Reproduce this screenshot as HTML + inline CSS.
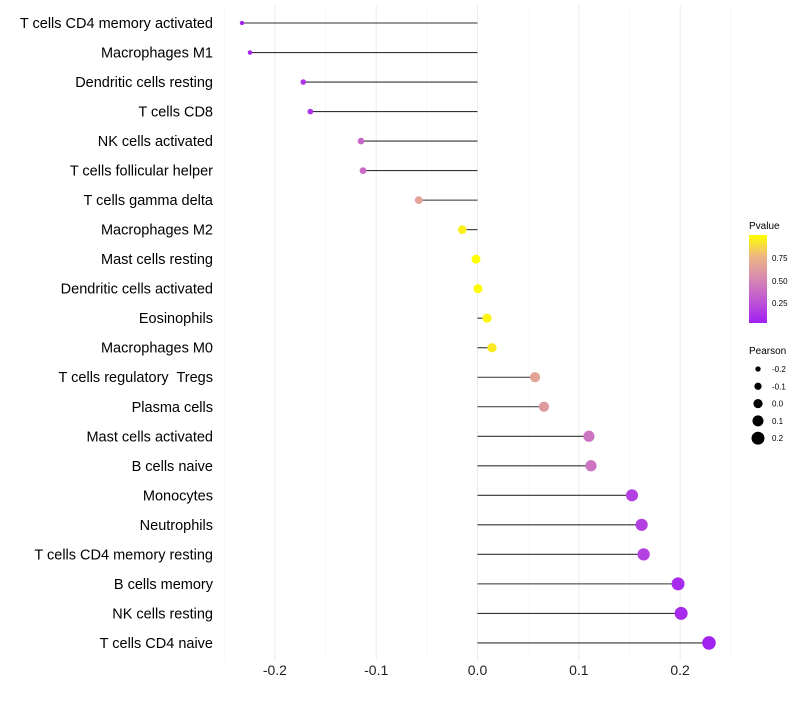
<!DOCTYPE html>
<html><head><meta charset="utf-8"><style>
body{margin:0;background:#fff;font-family:"Liberation Sans",sans-serif}
#labels text{white-space:pre}
</style></head><body>
<svg id="chart" width="800" height="700" xmlns="http://www.w3.org/2000/svg" font-family="Liberation Sans, sans-serif">
<defs><linearGradient id="pg" x1="0" y1="1" x2="0" y2="0">
<stop offset="0" stop-color="#A020F0"/><stop offset="0.25" stop-color="#BF55D5"/><stop offset="0.5" stop-color="#D688B2"/><stop offset="0.75" stop-color="#EDB585"/><stop offset="1" stop-color="#FFFF00"/></linearGradient></defs>
<g id="grid"></g><g id="marks"></g><g id="labels"></g><g id="ticks"></g>
<g>
<text x="749" y="229" font-size="10">Pvalue</text>
<rect x="749" y="235" width="18" height="88" fill="url(#pg)"/>
<text x="772" y="261" font-size="8">0.75</text>
<text x="772" y="284" font-size="8">0.50</text>
<text x="772" y="306" font-size="8">0.25</text>
</g>
<g id="sizeleg">
<text x="749" y="354" font-size="10">Pearson</text>
</g>
</svg>
<script>
const categories=["T cells CD4 memory activated","Macrophages M1","Dendritic cells resting","T cells CD8","NK cells activated","T cells follicular helper","T cells gamma delta","Macrophages M2","Mast cells resting","Dendritic cells activated","Eosinophils","Macrophages M0","T cells regulatory  Tregs","Plasma cells","Mast cells activated","B cells naive","Monocytes","Neutrophils","T cells CD4 memory resting","B cells memory","NK cells resting","T cells CD4 naive"];
const pearson=[-0.2325,-0.2246,-0.172,-0.165,-0.115,-0.113,-0.058,-0.015,-0.0015,0.0005,0.0094,0.0143,0.0568,0.0656,0.110,0.112,0.1525,0.162,0.164,0.198,0.201,0.2285];
const pvalue=[0.01,0.02,0.1,0.1,0.35,0.35,0.65,0.95,1.0,0.99,0.97,0.93,0.65,0.6,0.4,0.4,0.15,0.15,0.15,0.05,0.05,0.01];
const xTicks=[-0.2,-0.1,0.0,0.1,0.2];
const sizeLegend=[-0.2,-0.1,0.0,0.1,0.2];
const NS="http://www.w3.org/2000/svg";
const X=v=>477.5+v*1013, Y=i=>23+i*29.52, R=v=>4.5+10*v;
const stops=[[0,[160,32,240]],[0.25,[191,85,213]],[0.5,[214,136,178]],[0.75,[237,181,133]],[1,[255,255,0]]];
function col(p){for(let k=1;k<stops.length;k++){if(p<=stops[k][0]){const a=stops[k-1],b=stops[k],t=(p-a[0])/(b[0]-a[0]);return "rgb("+a[1].map((c,j)=>Math.round(c+(b[1][j]-c)*t)).join(",")+")";}}return "rgb(255,255,0)";}
function mk(tag,at,parent){const e=document.createElementNS(NS,tag);for(const k in at)e.setAttribute(k,at[k]);document.getElementById(parent).appendChild(e);return e;}
for(let v=-0.25;v<=0.2501;v+=0.05){const g=mk("line",{x1:X(v),x2:X(v),y1:5,y2:660,stroke:Math.abs(Math.round(v*100)%10)===5?"#f3f3f3":"#ebebeb","stroke-width":Math.abs(Math.round(v*100)%10)===5?0.6:1},"grid");

}
categories.forEach((c,i)=>{
const l=mk("line",{x1:X(0),x2:X(pearson[i]),y1:Y(i),y2:Y(i),stroke:"#333","stroke-width":1.1},"marks");


const p=mk("circle",{cx:X(pearson[i]),cy:Y(i),r:R(pearson[i]),fill:col(pvalue[i])},"marks");


const t=mk("text",{x:213,y:Y(i)+5,"text-anchor":"end","font-size":14.5,fill:"#000"},"labels");t.textContent=c;


});
xTicks.forEach(v=>{const t=mk("text",{x:X(v),y:675,"text-anchor":"middle","font-size":14,fill:"#222"},"ticks");t.textContent=v.toFixed(1);

});
sizeLegend.forEach((v,i)=>{const y=369+i*17.3;
const c=mk("circle",{cx:758,cy:y,r:R(v)*0.95+0.3,fill:"#000"},"sizeleg");


const t=mk("text",{x:772,y:y+3,"font-size":8},"sizeleg");t.textContent=v.toFixed(1);

});
</script>
</body></html>
